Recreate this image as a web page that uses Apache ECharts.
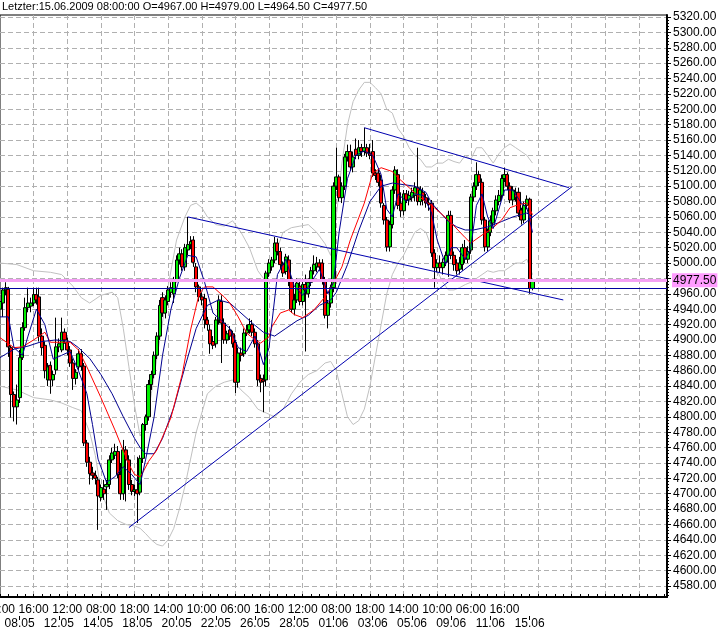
<!DOCTYPE html>
<html><head><meta charset="utf-8">
<script src="https://cdn.jsdelivr.net/npm/echarts@6/dist/echarts.min.js"></script>
<style>html,body{margin:0;padding:0;background:#fff}#c{width:727px;height:635px}</style>
</head><body><div id="c"></div>
<script>
// ---- categories ----
const days = ['07.05','08.05','11.05','12.05','13.05','14.05','15.05','18.05','19.05','20.05','21.05','22.05','25.05','26.05','27.05','28.05','29.05','01.06','02.06','03.06','04.06','05.06','08.06','09.06','10.06','11.06','12.06','15.06'];
const hours = ['06:00','08:00','10:00','12:00','14:00','16:00','18:00'];
const barsOnLastDay = 2;
const totalSlots = 239;
const dateLabelDays = ['08.05','12.05','14.05','18.05','20.05','22.05','26.05','28.05','01.06','03.06','05.06','09.06','11.06','15.06'];
const yTickValues = [4580,4600,4620,4640,4660,4680,4700,4720,4740,4760,4780,4800,4820,4840,4860,4880,4900,4920,4940,4960,4980,5000,5020,5040,5060,5080,5100,5120,5140,5160,5180,5200,5220,5240,5260,5280,5300,5320];
const yLabelValues = yTickValues.filter(v => v !== 4980);
const lastPrice = 4977.5;
const supportLevel = 4967;

// ---- OHLC (2h bars) ----
const opens = [4940,4948,4965,4966,4890,4829,4813,4825,4877,4916,4942,4944,4948,4959,4956,4905,4893,4848,4867,4848,4861,4891,4887,4910,4897,4887,4870,4850,4865,4882,
4866,4766,4741,4727,4724,4718,4695,4706,4709,4712,4744,4750,4755,4725,4700,4757,4744,4712,4703,4705,4702,4746,4790,4800,4842,4855,4880,4905,4955,4935,
4950,4962,4960,4978,5004,5012,4995,5017,5024,5030,4995,4969,4956,4954,4926,4913,4898,4895,4926,4950,4922,4900,4913,4908,4897,4845,4883,4882,4909,4913,
4920,4910,4895,4850,4848,4848,4987,4995,5004,5026,5015,4998,4989,5004,4976,4940,4952,4970,4950,4972,4960,4975,4990,4995,5000,5000,4978,4932,4948,4968,
5100,5112,5085,5100,5138,5145,5125,5148,5140,5150,5145,5150,5143,5145,5117,5117,5108,5075,5056,5021,5050,5095,5115,5078,5068,5090,5082,5085,5088,5098,
5080,5092,5085,5078,5078,5013,4994,5000,4994,5001,5010,5062,5010,5000,4992,4998,5020,5005,5017,5086,5100,5115,5105,5056,5021,5040,5052,5068,5080,5088,
5110,5115,5100,5082,5092,5092,5069,5056,5075,5083,4967];
const highs = [4958,4968,4975,4969,4893,4833,4842,4887,4923,4955,4968,4955,4968,4968,4968,4915,4898,4870,4872,4860,4929,4902,4929,4915,4903,4892,4876,4862,4888,4888,
4870,4770,4748,4735,4730,4722,4712,4718,4718,4750,4760,4765,4762,4740,4770,4762,4750,4718,4712,4748,4750,4792,4803,4848,4860,4885,4910,4952,4962,4958,
4970,4975,4982,5010,5020,5018,5025,5060,5035,5035,5000,4972,4962,4960,4930,4920,4905,4930,4958,4958,4928,4912,4918,4912,4900,4890,4890,4915,4920,4928,
4926,4915,4900,4855,4855,4990,5005,5008,5034,5032,5020,5002,5012,5010,4980,4960,4980,4978,4980,4985,4980,4995,5010,5008,5005,5005,4982,4952,4972,5105,
5150,5115,5105,5142,5154,5154,5145,5162,5160,5155,5176,5155,5155,5160,5122,5122,5115,5078,5060,5055,5100,5126,5122,5092,5095,5095,5094,5098,5105,5150,
5100,5098,5090,5085,5082,5018,5005,5010,5006,5015,5068,5068,5015,5005,5008,5025,5030,5022,5090,5105,5131,5120,5110,5060,5045,5062,5072,5088,5095,5115,
5124,5118,5105,5100,5098,5098,5072,5080,5088,5085,4979];
const lows = [4932,4930,4958,4878,4799,4794,4790,4818,4874,4912,4936,4936,4944,4946,4898,4880,4850,4840,4830,4840,4855,4884,4884,4895,4880,4865,4835,4842,4860,4860,
4762,4735,4712,4718,4712,4653,4690,4692,4679,4706,4740,4745,4720,4692,4692,4690,4705,4698,4697,4662,4698,4740,4782,4795,4835,4850,4875,4900,4930,4928,
4945,4955,4948,4975,4998,4990,4990,5010,5018,4995,4962,4950,4945,4915,4912,4882,4888,4890,4920,4870,4895,4895,4900,4890,4831,4838,4872,4878,4905,4908,
4905,4890,4840,4832,4806,4840,4982,4990,5000,5010,4992,4982,4985,4970,4935,4932,4948,4945,4945,4885,4955,4970,4985,4988,4990,4972,4928,4915,4942,4962,
5095,5080,5078,5095,5132,5120,5118,5135,5135,5138,5140,5138,5135,5112,5108,5100,5072,5050,5015,5015,5045,5090,5070,5060,5062,5078,5075,5080,5080,5075,
5075,5075,5072,5068,5008,4968,4988,4988,4985,4996,4982,5005,4990,4985,4985,4990,5000,5000,5012,5080,5095,5100,5050,5015,5015,5035,5048,5062,5075,5082,
5105,5095,5078,5075,5080,5060,5050,5052,5070,4960,4964.5];
const closes = [4950,4965,4968,4891,4829,4813,4822,4877,4916,4942,4948,4948,4959,4952,4905,4890,4860,4865,4848,4855,4891,4895,4910,4900,4887,4870,4850,4858,4882,4866,
4766,4741,4726,4724,4720,4697,4708,4700,4712,4744,4753,4755,4725,4700,4757,4744,4712,4703,4705,4700,4746,4790,4800,4842,4855,4880,4905,4945,4935,4952,
4965,4968,4978,5004,5012,4995,5020,5024,5028,5001,4969,4956,4952,4926,4920,4895,4893,4926,4952,4922,4900,4908,4905,4895,4845,4883,4880,4909,4913,4920,
4910,4895,4848,4845,4846,4987,5000,5004,5026,5015,4998,4987,5008,4976,4940,4952,4974,4950,4972,4965,4975,4990,4998,5000,4995,4978,4932,4948,4968,5100,
5112,5085,5100,5138,5145,5125,5138,5140,5150,5145,5150,5143,5140,5117,5114,5105,5078,5056,5021,5050,5095,5121,5075,5068,5090,5082,5088,5092,5098,5080,
5095,5082,5078,5076,5013,4994,5000,4994,5001,5010,5062,5010,4998,4990,5000,5020,5005,5015,5086,5100,5115,5105,5056,5021,5040,5055,5068,5082,5088,5110,
5115,5100,5082,5095,5085,5065,5056,5075,5083,4967,4977.5];

// ---- indicator lines: [bar, value] ----
const maFastBlue = [[0,4930],[3,4930],[5,4890],[8,4880],[10,4905],[13,4940],[16,4920],[19,4875],[22,4880],[25,4885],[28,4860],[31,4830],[33,4790],[35,4745],[38,4715],[41,4722],[44,4735],[47,4725],[50,4712],[52,4745],[55,4800],[58,4880],[61,4940],[64,4980],[67,5010],[70,5008],[73,4975],[76,4935],[79,4925],[82,4915],[85,4890],[88,4885],[91,4905],[94,4868],[96,4890],[99,4985],[102,5005],[105,4970],[108,4958],[111,4975],[114,4992],[117,4960],[119,4975],[121,5040],[124,5110],[127,5140],[130,5146],[133,5140],[136,5115],[138,5070],[140,5060],[142,5090],[145,5080],[148,5090],[151,5088],[154,5065],[156,5030],[159,4998],[161,5020],[163,5020],[166,5005],[168,5020],[170,5075],[172,5090],[174,5060],[176,5045],[178,5070],[180,5095],[183,5095],[186,5078],[188,5072],[190,5040]];
const maRed = [[0,4903],[5,4890],[8,4891],[12,4900],[16,4910],[18,4897],[22,4897],[25,4897],[28,4887],[31,4865],[36,4825],[41,4783],[46,4738],[48,4725],[50,4722],[51,4728],[53,4742],[56,4757],[61,4799],[65,4855],[68,4913],[71,4959],[73,4969],[76,4969],[80,4956],[82,4948],[85,4930],[88,4909],[91,4900],[93,4896],[96,4904],[97,4917],[100,4935],[103,4939],[105,4933],[108,4929],[112,4939],[116,4956],[119,4974],[122,4995],[125,5030],[130,5078],[133,5117],[136,5124],[140,5119],[142,5111],[146,5098],[150,5085],[155,5072],[160,5056],[166,5033],[168,5026],[173,5039],[175,5043],[179,5056],[182,5072],[185,5076],[188,5078],[190,5063]];
const maSlowBlue = [[0,4877],[5,4888],[10,4892],[15,4898],[20,4900],[25,4898],[28,4890],[32,4876],[36,4855],[40,4830],[44,4800],[48,4772],[50,4760],[52,4752],[55,4752],[58,4772],[62,4812],[66,4865],[70,4915],[74,4945],[78,4952],[82,4948],[86,4935],[90,4922],[94,4910],[98,4905],[102,4915],[106,4925],[110,4932],[114,4945],[118,4952],[120,4962],[124,4998],[128,5042],[132,5080],[136,5100],[140,5104],[144,5102],[148,5100],[152,5092],[154,5078],[157,5066],[160,5054],[163,5047],[166,5043],[169,5043],[174,5047],[179,5054],[183,5060],[186,5063],[188,5065],[190,5060]];
const bandUpper = [[0,5000],[6,4998],[12,4990],[18,4988],[22,4985],[26,4970],[29,4955],[32,4948],[36,4958],[40,4962],[42,4955],[44,4915],[46,4865],[48,4815],[50,4775],[52,4790],[54,4830],[57,4900],[60,4970],[63,5030],[66,5060],[68,5075],[70,5078],[72,5072],[74,5060],[77,5050],[80,5048],[83,5055],[86,5040],[89,5020],[92,4990],[95,4975],[98,5010],[101,5040],[104,5046],[107,5048],[110,5050],[113,5040],[116,5025],[118,5010],[120,5060],[122,5130],[124,5180],[126,5210],[128,5225],[130,5235],[132,5235],[134,5228],[136,5220],[138,5200],[140,5195],[142,5175],[144,5165],[146,5150],[148,5140],[150,5135],[152,5125],[154,5125],[156,5130],[158,5130],[160,5135],[162,5132],[164,5130],[166,5140],[168,5135],[170,5150],[172,5150],[174,5140],[176,5130],[178,5142],[180,5150],[182,5155],[184,5150],[186,5145],[188,5140],[190,5130]];
const bandLower = [[0,4840],[6,4835],[12,4825],[18,4822],[22,4818],[26,4812],[29,4808],[32,4780],[34,4750],[36,4705],[39,4675],[42,4665],[45,4660],[48,4658],[50,4655],[52,4648],[54,4640],[56,4634],[58,4632],[60,4640],[62,4655],[64,4680],[66,4710],[68,4745],[70,4780],[72,4805],[74,4830],[77,4840],[80,4845],[83,4848],[86,4835],[89,4825],[92,4810],[95,4805],[98,4800],[101,4810],[104,4830],[107,4845],[110,4855],[113,4860],[116,4870],[118,4872],[120,4860],[122,4830],[124,4800],[126,4790],[128,4795],[130,4810],[132,4840],[134,4880],[136,4920],[138,4960],[140,4985],[142,5000],[144,5010],[146,5025],[148,5040],[150,5045],[152,5040],[154,5020],[156,4990],[158,4975],[160,4965],[162,4965],[164,4968],[166,4972],[168,4975],[170,4980],[172,4985],[174,4990],[176,4988],[178,4990],[180,4990],[182,4995],[184,5000],[186,5000],[188,5005],[190,4985]];
// trend lines [bar, value] endpoints
const trendRising = [[46,4656],[204,5099]];
const trendLowerFalling = [[67,5060],[201,4952]];
const trendUpperFalling = [[130,5176],[203,5098]];

// ---- build categories ----
const categories = [];
days.forEach((d, di) => {
  const n = di === days.length - 1 ? barsOnLastDay : hours.length;
  for (let k = 0; k < n; k++) categories.push(d + ' ' + hours[k]);
});
const nBars = categories.length;
for (let i = nBars; i < totalSlots; i++) categories.push('pad' + i);

const isDateTick = (idx) => {
  if (idx >= nBars) return false;
  const [d, h] = categories[idx].split(' ');
  return h === '06:00' && dateLabelDays.indexOf(d) >= 0;
};
const minorTicks = [];
for (let v = 4568; v <= 5320; v += 4) minorTicks.push(v);

const font = 'Liberation Sans, Arial, sans-serif';
const gridDash = { color: '#b0b0b0', width: 1, type: [5, 3] };
const yMin = 4565.7, yMax = 5322.6;

const candleData = opens.map((o, i) => [o, closes[i], lows[i], highs[i]]);
const line = (data, color, z) => ({ type: 'line', data, symbol: 'none', silent: true, z, lineStyle: { color, width: 1 }, clip: true });

const chart = echarts.init(document.getElementById('c'), null, { renderer: 'canvas' });
chart.setOption({
  animation: false,
  backgroundColor: '#fff',
  textStyle: { fontFamily: font },
  title: { text: 'Letzter:15.06.2009 08:00:00 O=4967.00 H=4979.00 L=4964.50 C=4977.50', left: 2, top: 1, padding: 0,
           textStyle: { fontSize: 11, fontWeight: 'normal', color: '#000', fontFamily: font } },
  grid: { left: 0, right: 60, top: 15, bottom: 38, show: true, borderColor: '#000', borderWidth: 1, backgroundColor: 'transparent',
          outerBoundsMode: 'none', containLabel: false },
  xAxis: [
    { type: 'category', data: categories, boundaryGap: false, position: 'bottom',
      axisLine: { lineStyle: { color: '#000', width: 2 } },
      axisTick: { show: true, inside: true, length: 3, interval: (i) => i % 3 === 0, lineStyle: { color: '#000' } },
      axisLabel: { interval: (i) => i % 12 === 0 && i < nBars, formatter: (v) => v.split(' ')[1], color: '#000', fontSize: 12, margin: 7, fontFamily: font, hideOverlap: false },
      splitLine: { show: true, interval: (i) => i % 12 === 0 && i > 0, lineStyle: gridDash } },
    { type: 'category', data: categories, boundaryGap: false, position: 'bottom', offset: 19,
      axisLine: { show: false },
      axisTick: { show: true, length: 4, interval: (i) => isDateTick(i), lineStyle: { color: '#000' } },
      axisLabel: { interval: (i) => isDateTick(i), formatter: (v) => v.split(' ')[0], color: '#000', fontSize: 12, margin: 2, fontFamily: font },
      splitLine: { show: false } }
  ],
  yAxis: [
    { type: 'value', position: 'right', min: yMin, max: yMax, scale: true,
      axisLine: { show: true, lineStyle: { color: '#000', width: 2 } },
      axisTick: { show: true, length: 4, customValues: yTickValues, lineStyle: { color: '#000' } },
      axisLabel: { customValues: yLabelValues, formatter: (v) => v.toFixed(2), color: '#000', fontSize: 12, margin: 6, fontFamily: font },
      splitLine: { show: true, lineStyle: gridDash } },
    { type: 'value', position: 'right', min: yMin, max: yMax, scale: true,
      axisLine: { show: false },
      axisTick: { show: true, length: 2, customValues: minorTicks, lineStyle: { color: '#000' } },
      axisLabel: { show: false }, splitLine: { show: false } }
  ],
  series: [
    line(bandUpper, '#c0c0c0', 1),
    line(bandLower, '#c0c0c0', 1),
    { type: 'candlestick', data: candleData, barWidth: 3.6, z: 2,
      itemStyle: { color: '#00ee00', color0: '#ff0000', borderColor: '#000', borderColor0: '#000', borderWidth: 1 },
      markLine: { silent: true, symbol: ['none', 'none'], animation: false,
        data: [
          { yAxis: lastPrice, lineStyle: { color: '#f4a0f4', width: 3, type: 'solid' },
            label: { show: true, position: 'end', distance: 5, formatter: '4977.50', color: '#000', fontSize: 12, fontFamily: font, backgroundColor: '#ff9cff', padding: [1, 1, 1, 1] } },
          { yAxis: supportLevel, lineStyle: { color: '#0000a0', width: 1, type: 'solid' }, label: { show: false } }
        ] } },
    line(maSlowBlue, '#000090', 3),
    line(maRed, '#ff0000', 3),
    line(maFastBlue, '#000090', 3),
    line(trendRising, '#0000b0', 4),
    line(trendLowerFalling, '#0000b0', 4),
    line(trendUpperFalling, '#0000b0', 4)
  ]
});
</script></body></html>
